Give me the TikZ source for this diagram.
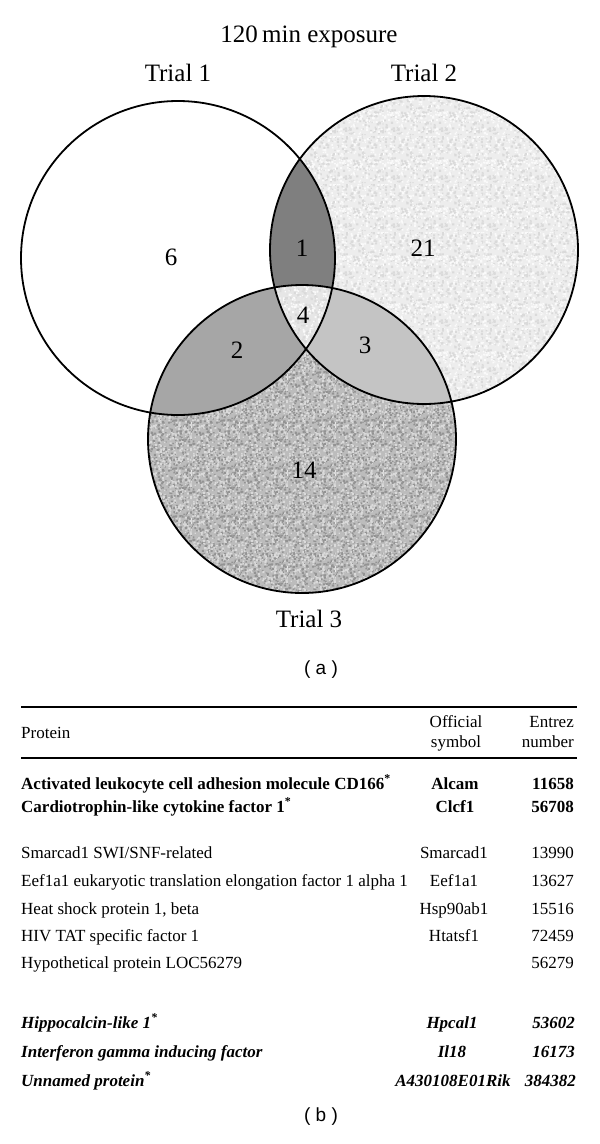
\documentclass[tikz,border=0pt]{standalone}
\usepackage{fontspec}
\usetikzlibrary{patterns}
\setmainfont{Liberation Serif}
\newfontfamily\labelsans{Liberation Sans}
\definecolor{ctwo}{HTML}{EDEDED}
\definecolor{cthree}{HTML}{BCBCBC}
\definecolor{lensA}{HTML}{7F7F7F}
\definecolor{lensB}{HTML}{A6A6A6}
\definecolor{lensC}{HTML}{C4C4C4}
\definecolor{lensD}{HTML}{E6E6E6}
\definecolor{specdarkC}{HTML}{939393}
\definecolor{speclightC}{HTML}{DADADA}
\definecolor{specdarkB}{HTML}{DADADA}
\definecolor{speclightB}{HTML}{FAFAFA}
\pgfdeclarepatterninherentlycolored{speckleC}
{\pgfpoint{0pt}{0pt}}{\pgfpoint{48pt}{48pt}}{\pgfpoint{48pt}{48pt}}
{%
  \pgfmathsetseed{11}%
  \foreach \k in {1,...,480}{%
    \pgfmathsetmacro{\px}{48*rnd}%
    \pgfmathsetmacro{\py}{48*rnd}%
    \pgfmathsetmacro{\pg}{rnd}%
    \pgfmathsetmacro{\ps}{1.1+1.3*rnd}%
    \ifdim\pg pt<0.5pt \pgfsetfillcolor{specdarkC}\else\pgfsetfillcolor{speclightC}\fi
    \pgfpathrectangle{\pgfpoint{\px pt}{\py pt}}{\pgfpoint{\ps pt}{\ps pt}}%
    \pgfusepath{fill}%
  }%
}
\pgfdeclarepatterninherentlycolored{speckleB}
{\pgfpoint{0pt}{0pt}}{\pgfpoint{48pt}{48pt}}{\pgfpoint{48pt}{48pt}}
{%
  \pgfmathsetseed{5}%
  \foreach \k in {1,...,320}{%
    \pgfmathsetmacro{\px}{48*rnd}%
    \pgfmathsetmacro{\py}{48*rnd}%
    \pgfmathsetmacro{\pg}{rnd}%
    \pgfmathsetmacro{\ps}{1.1+1.3*rnd}%
    \ifdim\pg pt<0.5pt \pgfsetfillcolor{specdarkB}\else\pgfsetfillcolor{speclightB}\fi
    \pgfpathrectangle{\pgfpoint{\px pt}{\py pt}}{\pgfpoint{\ps pt}{\ps pt}}%
    \pgfusepath{fill}%
  }%
}
\begin{document}
\begin{tikzpicture}[x=1pt,y=-1pt,
  venn/.style={inner sep=0pt,font=\fontsize{25}{30}\selectfont},
  vennlab/.style={inner sep=0pt,anchor=base,font=\fontsize{25}{30}\selectfont},
  panel/.style={inner sep=0pt,font=\labelsans\fontsize{19}{22}\selectfont},
  prot/.style={inner sep=0pt,anchor=base west,font=\fontsize{17}{20}\selectfont},
  sym/.style={inner sep=0pt,anchor=base,font=\fontsize{17}{20}\selectfont},
  num/.style={inner sep=0pt,anchor=base east,font=\fontsize{17}{20}\selectfont},
  bf/.style={font=\fontsize{17}{20}\selectfont\bfseries},
  bfit/.style={font=\fontsize{17}{20}\selectfont\bfseries\itshape},
  rule/.style={line width=1.3pt},
  outline/.style={line width=1.8pt}]
\useasboundingbox (0,0) rectangle (600,1144);
\coordinate (c1) at (178,258);
\coordinate (c2) at (424,250);
\coordinate (c3) at (302,439);
% fills
\fill[ctwo] (c2) circle[radius=154pt];
\fill[pattern=speckleB] (c2) circle[radius=154pt];
\fill[cthree] (c3) circle[radius=154pt];
\fill[pattern=speckleC] (c3) circle[radius=154pt];
\fill[white] (c1) circle[radius=157pt];
\begin{scope}
  \clip (c1) circle[radius=157pt];
  \fill[lensA] (c2) circle[radius=154pt];
  \fill[lensB] (c3) circle[radius=154pt];
\end{scope}
\begin{scope}
  \clip (c2) circle[radius=154pt];
  \fill[lensC] (c3) circle[radius=154pt];
\end{scope}
\begin{scope}
  \clip (c1) circle[radius=157pt];
  \clip (c2) circle[radius=154pt];
  \fill[lensD] (c3) circle[radius=154pt];
  \fill[pattern=speckleB] (c3) circle[radius=154pt];
\end{scope}
\draw[outline] (c1) circle[radius=157pt];
\draw[outline] (c2) circle[radius=154pt];
\draw[outline] (c3) circle[radius=154pt];
% labels
\node[vennlab] (title) at (309,42) {120\,min exposure};
\node[vennlab] (t1) at (178,81) {Trial 1};
\node[vennlab] (t2) at (424,81) {Trial 2};
\node[vennlab] (t3) at (309,627) {Trial 3};
\node[venn] (n6) at (171,257) {6};
\node[venn] (n1) at (302,248) {1};
\node[venn] (n21) at (423,248) {21};
\node[venn] (n4) at (303,315) {4};
\node[venn] (n2) at (237,350) {2};
\node[venn] (n3) at (365,345) {3};
\node[venn] (n14) at (304,470) {14};
\node[panel] (pa) at (321,670) {( a )};
% table
\draw[rule] (21,707) -- (577,707);
\draw[rule] (21,758) -- (577,758);
\node[prot] (hp) at (21,738) {Protein};
\node[sym] (hs1) at (456,727) {Official};
\node[sym] (hs2) at (456,747) {symbol};
\node[num] (hn1) at (574,727) {Entrez};
\node[num] (hn2) at (574,747) {number};
\node[prot,bf] (p1) at (21,789) {Activated leukocyte cell adhesion molecule CD166\textsuperscript{*}};
\node[sym,bf] (s1) at (455,789) {Alcam};
\node[num,bf] (e1) at (574,789) {11658};
\node[prot,bf] (p2) at (21,812) {Cardiotrophin-like cytokine factor 1\textsuperscript{*}};
\node[sym,bf] (s2) at (455,812) {Clcf1};
\node[num,bf] (e2) at (574,812) {56708};
\node[prot] (p3) at (21,858) {Smarcad1 SWI/SNF-related};
\node[sym] (s3) at (454,858) {Smarcad1};
\node[num] (e3) at (574,858) {13990};
\node[prot] (p4) at (21,886) {Eef1a1 eukaryotic translation elongation factor 1 alpha 1};
\node[sym] (s4) at (454,886) {Eef1a1};
\node[num] (e4) at (574,886) {13627};
\node[prot] (p5) at (21,914) {Heat shock protein 1, beta};
\node[sym] (s5) at (454,914) {Hsp90ab1};
\node[num] (e5) at (574,914) {15516};
\node[prot] (p6) at (21,941) {HIV TAT specific factor 1};
\node[sym] (s6) at (454,941) {Htatsf1};
\node[num] (e6) at (574,941) {72459};
\node[prot] (p7) at (21,968) {Hypothetical protein LOC56279};
\node[num] (e7) at (574,968) {56279};
\node[prot,bfit] (p8) at (21,1028) {Hippocalcin-like 1\textsuperscript{*}};
\node[sym,bfit] (s8) at (452,1028) {Hpcal1};
\node[num,bfit] (e8) at (575,1028) {53602};
\node[prot,bfit] (p9) at (21,1057) {Interferon gamma inducing factor};
\node[sym,bfit] (s9) at (452,1057) {Il18};
\node[num,bfit] (e9) at (575,1057) {16173};
\node[prot,bfit] (p10) at (21,1086) {Unnamed protein\textsuperscript{*}};
\node[sym,bfit] (s10) at (453,1086) {A430108E01Rik};
\node[num,bfit] (e10) at (576,1086) {384382};
\node[panel] (pb) at (321,1117) {( b )};
\end{tikzpicture}
\end{document}
